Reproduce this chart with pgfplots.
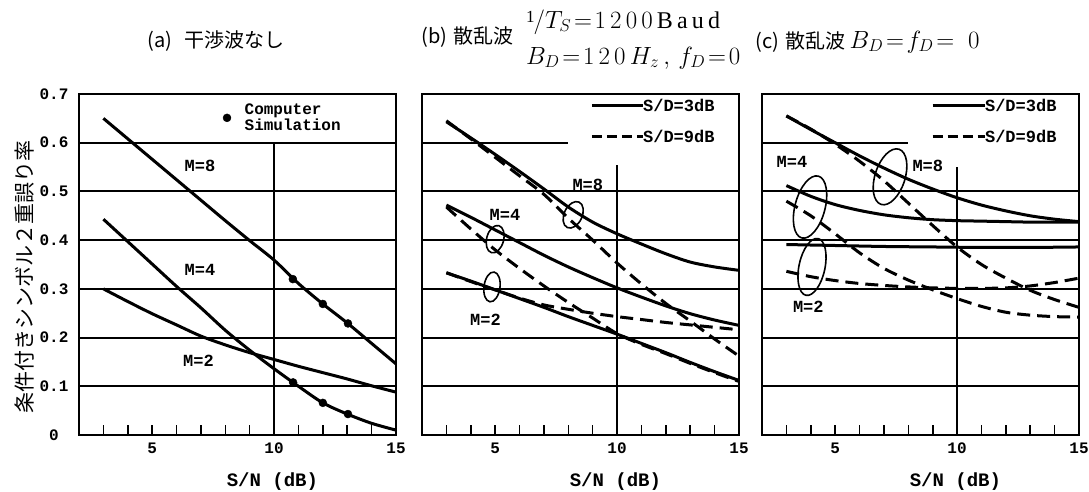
\documentclass[border=0pt]{standalone}
\usepackage{pgfplots}
\pgfplotsset{compat=1.18}
\usepackage{fontspec}
\setmainfont{Liberation Serif}
\newfontfamily\mono{Liberation Mono}
\newfontfamily\jp{Noto Sans CJK JP}
\usetikzlibrary{shapes.geometric}

\newcommand{\tickfont}{\mono\bfseries\fontsize{16}{16}\selectfont}
\newcommand{\lblfont}{\mono\bfseries\fontsize{17}{17}\selectfont}

\tikzset{
  curve/.style={line width=3pt, black, smooth},
  dcurve/.style={line width=3pt, black, smooth, dash pattern=on 13pt off 7pt},
  gridl/.style={line width=2pt, black},
  ell/.style={draw, ellipse, line width=1.6pt, inner sep=0pt},
}
\pgfplotsset{
  panel/.style={
    scale only axis, width=317pt, height=341pt,
    xmin=2, xmax=15, ymin=0, ymax=0.7,
    axis line style={line width=2.4pt},
    xtick={5,10,15},
    minor xtick={3,4,6,7,8,9,11,12,13,14},
    xtick pos=left,
    tick align=inside,
    major tick length=10pt, minor tick length=10pt,
    xtick style={line width=1.6pt, black},
    ytick={0,0.1,0.2,0.3,0.4,0.5,0.6,0.7},
    ytick style={draw=none},
    tick label style={font=\tickfont},
    /pgf/number format/assume math mode=true,
    xticklabel style={yshift=-4pt},
    xlabel={S/N (dB)},
    xlabel style={font=\mono\bfseries\fontsize{19}{19}\selectfont, at={(rel axis cs:0.61,0)}, anchor=center, yshift=-47pt},
    clip=true,
  },
}

\begin{document}
\begin{tikzpicture}
\useasboundingbox (0,0) rectangle (1089pt,492pt);

% ---------------- titles ----------------
\node[anchor=west, font=\jp\fontsize{20}{20}\selectfont] at (144pt,451pt) {(a)\hspace{12pt}干渉波なし};
\node[anchor=west, font=\jp\fontsize{20}{20}\selectfont] at (418pt,455pt) {(b)\hspace{6pt}散乱波};
\node[anchor=west, inner sep=0pt, font=\fontsize{24}{24}\selectfont] at (526pt,470pt) {\raisebox{6pt}{\fontsize{17}{17}\selectfont 1}\kern-1pt$/T_S\!=\!1\,2\,0\,0\,\mathrm{B\,a\,u\,d}$};
\node[anchor=west, inner sep=0pt, font=\fontsize{24}{24}\selectfont] at (526pt,434pt) {$B_D\!=\!1\,2\,0\,H_z\,,\,f_D\!=\!0$};
\node[anchor=west, font=\jp\fontsize{20}{20}\selectfont] at (752pt,450pt) {(c)\hspace{6pt}散乱波 {\fontsize{23}{23}\selectfont$B_D\!=\!f_D\!=\;0$}};

% y label
\node[rotate=90, font=\jp\fontsize{21}{21}\selectfont] at (25pt,215pt) {条件付きシンボル２重誤り率};

% ---------------- panel (a) ----------------
\begin{axis}[panel, at={(79pt,57pt)}, anchor=south west,
  yticklabels={0,0.1,0.2,0.3,0.4,0.5,0.6,0.7},
  yticklabel style={anchor=center, xshift=-25pt}]
\pgfplotsinvokeforeach{0.1,0.2,0.3,0.4,0.5,0.6}{\draw[gridl] (axis cs:2,#1) -- (axis cs:15,#1);}
\draw[gridl] (axis cs:10,0) -- (axis cs:10,0.6);
\addplot[curve] coordinates {(3,0.650) (4,0.608) (5,0.566) (6,0.524) (7,0.482) (8,0.440) (9,0.399) (10,0.359) (11,0.311) (12,0.269) (13,0.230) (14,0.188) (15,0.146)};
\addplot[curve] coordinates {(3,0.443) (4,0.397) (5,0.351) (6,0.305) (7,0.261) (8,0.215) (9,0.174) (10,0.136) (11,0.100) (12,0.066) (13,0.043) (14,0.024) (15,0.010)};
\addplot[curve] coordinates {(3,0.300) (4,0.274) (5,0.249) (6,0.226) (7,0.203) (8,0.185) (9,0.169) (10,0.155) (11,0.141) (12,0.128) (13,0.115) (14,0.101) (15,0.088)};
\addplot[only marks, mark=*, mark size=4pt, black] coordinates {(10.77,0.320) (12.0,0.269) (13.03,0.229) (10.78,0.108) (12.0,0.066) (13.03,0.043)};
\addplot[only marks, mark=*, mark size=4pt, black] coordinates {(8.07,0.651)};
\node[anchor=west, align=left, font=\mono\bfseries\fontsize{16}{16}\selectfont] at (axis cs:8.65,0.653) {Computer\\Simulation};
\node[font=\lblfont] at (axis cs:6.96,0.553) {M=8};
\node[font=\lblfont] at (axis cs:6.96,0.339) {M=4};
\node[font=\lblfont] at (axis cs:6.9,0.152) {M=2};
\end{axis}

% ---------------- panel (b) ----------------
\begin{axis}[panel, at={(422pt,57pt)}, anchor=south west, yticklabels={}]
\pgfplotsinvokeforeach{0.1,0.2,0.3,0.4,0.5}{\draw[gridl] (axis cs:2,#1) -- (axis cs:15,#1);}
\draw[gridl] (axis cs:2,0.6) -- (axis cs:8.0,0.6);
\draw[gridl] (axis cs:10,0) -- (axis cs:10,0.555);
\addplot[curve] coordinates {(3,0.643) (4,0.610) (5,0.576) (6,0.541) (7,0.505) (8,0.468) (9,0.437) (10,0.413) (11,0.392) (12,0.372) (13,0.355) (14,0.345) (15,0.338)};
\addplot[dcurve] coordinates {(3,0.645) (4,0.608) (5,0.570) (6,0.532) (7,0.494) (8,0.445) (9,0.400) (10,0.353) (11,0.310) (12,0.270) (13,0.234) (14,0.197) (15,0.162)};
\addplot[curve] coordinates {(3,0.472) (4,0.447) (5,0.421) (6,0.395) (7,0.369) (8,0.345) (9,0.323) (10,0.302) (11,0.283) (12,0.265) (13,0.249) (14,0.236) (15,0.225)};
\addplot[dcurve] coordinates {(3,0.468) (4,0.423) (5,0.380) (6,0.342) (7,0.306) (8,0.272) (9,0.240) (10,0.208) (11,0.186) (12,0.167) (13,0.147) (14,0.128) (15,0.110)};
\addplot[curve] coordinates {(3,0.333) (4,0.316) (5,0.298) (6,0.280) (7,0.262) (8,0.243) (9,0.225) (10,0.207) (11,0.188) (12,0.169) (13,0.149) (14,0.130) (15,0.112)};
\addplot[dcurve] coordinates {(3,0.333) (4,0.315) (5,0.298) (6,0.281) (7,0.267) (8,0.258) (9,0.250) (10,0.243) (11,0.237) (12,0.231) (13,0.226) (14,0.221) (15,0.216)};
% legend
\addplot[curve] coordinates {(8.97,0.677) (11.06,0.677)};
\addplot[dcurve, dash pattern=on 10pt off 5pt] coordinates {(8.97,0.612) (11.06,0.612)};
\node[anchor=west, font=\lblfont, inner sep=0pt] at (axis cs:11.06,0.677) {S/D=3dB};
\node[anchor=west, font=\lblfont, inner sep=0pt] at (axis cs:11.06,0.612) {S/D=9dB};
% ellipses and labels
\node[ell, minimum width=18pt, minimum height=28pt, rotate=-25] at (axis cs:8.2,0.452) {};
\node[ell, minimum width=17pt, minimum height=28pt, rotate=-15] at (axis cs:5.0,0.402) {};
\node[ell, minimum width=16pt, minimum height=30pt, rotate=-8] at (axis cs:4.87,0.304) {};
\node[font=\lblfont] at (axis cs:8.8,0.513) {M=8};
\node[font=\lblfont] at (axis cs:5.4,0.452) {M=4};
\node[font=\lblfont] at (axis cs:4.6,0.236) {M=2};
\end{axis}

% ---------------- panel (c) ----------------
\begin{axis}[panel, at={(762pt,57pt)}, anchor=south west, yticklabels={}]
\pgfplotsinvokeforeach{0.1,0.2,0.3,0.4,0.5}{\draw[gridl] (axis cs:2,#1) -- (axis cs:15,#1);}
\draw[gridl] (axis cs:2,0.6) -- (axis cs:8.0,0.6);
\draw[gridl] (axis cs:10,0) -- (axis cs:10,0.55);
\addplot[curve] coordinates {(3,0.655) (4,0.627) (5,0.600) (6,0.573) (7,0.548) (8,0.525) (9,0.505) (10,0.487) (11,0.472) (12,0.460) (13,0.450) (14,0.443) (15,0.438)};
\addplot[dcurve] coordinates {(3,0.655) (4,0.628) (5,0.597) (6,0.562) (7,0.522) (8,0.476) (9,0.430) (10,0.386) (11,0.350) (12,0.322) (13,0.297) (14,0.278) (15,0.262)};
\addplot[curve] coordinates {(3,0.512) (4,0.490) (5,0.473) (6,0.461) (7,0.452) (8,0.446) (9,0.442) (10,0.440) (11,0.439) (12,0.438) (13,0.437) (14,0.437) (15,0.437)};
\addplot[dcurve] coordinates {(3,0.480) (4,0.450) (5,0.413) (6,0.374) (7,0.342) (8,0.318) (9,0.298) (10,0.280) (11,0.264) (12,0.252) (13,0.246) (14,0.243) (15,0.242)};
\addplot[curve] coordinates {(3,0.391) (5,0.389) (7,0.387) (9,0.386) (11,0.385) (13,0.385) (15,0.386)};
\addplot[dcurve] coordinates {(3,0.336) (4,0.325) (5,0.317) (6,0.311) (7,0.307) (8,0.304) (9,0.302) (10,0.301) (11,0.301) (12,0.302) (13,0.306) (14,0.313) (15,0.322)};
% legend
\addplot[curve] coordinates {(9.0,0.677) (11.14,0.677)};
\addplot[dcurve, dash pattern=on 10pt off 5pt] coordinates {(9.0,0.612) (11.14,0.612)};
\node[anchor=west, font=\lblfont, inner sep=0pt] at (axis cs:11.14,0.677) {S/D=3dB};
\node[anchor=west, font=\lblfont, inner sep=0pt] at (axis cs:11.14,0.612) {S/D=9dB};
% ellipses and labels
\node[ell, minimum width=30pt, minimum height=58pt, rotate=-18] at (axis cs:7.25,0.53) {};
\node[ell, minimum width=30pt, minimum height=64pt, rotate=-15] at (axis cs:3.97,0.468) {};
\node[ell, minimum width=26pt, minimum height=58pt, rotate=-12] at (axis cs:4.05,0.345) {};
\node[font=\lblfont] at (axis cs:8.8,0.552) {M=8};
\node[font=\lblfont] at (axis cs:3.23,0.56) {M=4};
\node[font=\lblfont] at (axis cs:3.9,0.263) {M=2};
\end{axis}
\end{tikzpicture}
\end{document}
